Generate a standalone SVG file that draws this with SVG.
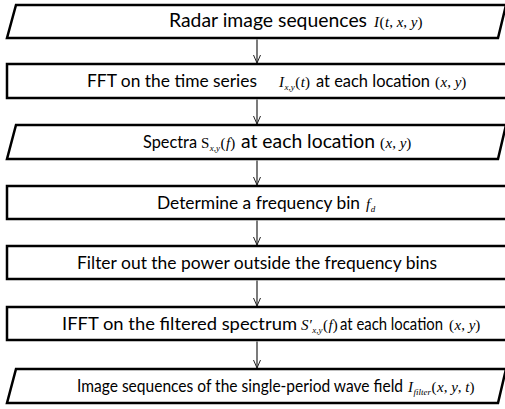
<svg xmlns="http://www.w3.org/2000/svg" width="505" height="409" viewBox="0 0 505 409">
<defs>
<marker id="ah" markerWidth="10" markerHeight="10" refX="9" refY="5" orient="auto" markerUnits="userSpaceOnUse" viewBox="0 0 10 10">
<path d="M1,1.5 L9,5 L1,8.5" fill="none" stroke="#222" stroke-width="1"/>
</marker>
</defs>
<style>
.box{fill:#fff;stroke:#000;stroke-width:2.5}
.t{font-family:Lato,"Open Sans","Liberation Sans",sans-serif;font-size:18px;fill:#000}
.m{font-family:"Liberation Serif","Times New Roman",serif;font-size:15px;fill:#000}
.i{font-style:italic}
.sub{font-size:9px}
.c{stroke:#222;stroke-width:1.2;fill:none}
</style>
<g id="connectors">
<line class="c" x1="257" y1="39.5" x2="257" y2="63" marker-end="url(#ah)"/>
<line class="c" x1="257" y1="99.5" x2="257" y2="124" marker-end="url(#ah)"/>
<line class="c" x1="257" y1="160.5" x2="257" y2="185" marker-end="url(#ah)"/>
<line class="c" x1="257" y1="220.5" x2="257" y2="245" marker-end="url(#ah)"/>
<line class="c" x1="257" y1="280.5" x2="257" y2="306" marker-end="url(#ah)"/>
<line class="c" x1="257" y1="341.5" x2="257" y2="368" marker-end="url(#ah)"/>
</g>
<g id="n1">
<polygon class="box" points="16,5 506,5 498,38 7,38"/>
<text class="t" x="169" y="27" style="font-size:19px" textLength="198" lengthAdjust="spacingAndGlyphs">Radar image sequences</text>
<text class="m" x="374" y="27"><tspan class="i">I</tspan><tspan dx="0.5">(</tspan><tspan class="i" dx="0.5">t</tspan>, <tspan class="i">x</tspan>, <tspan class="i">y</tspan>)</text>
</g>
<g id="n2">
<rect class="box" x="7" y="64" width="505" height="34"/>
<text class="t" x="87" y="87" textLength="170" lengthAdjust="spacingAndGlyphs">FFT on the time series</text>
<text class="m" x="279" y="87"><tspan class="i">I</tspan><tspan class="sub i" dy="3" dx="0.5">x,y</tspan><tspan dy="-3" dx="0.5">(</tspan><tspan class="i" dx="0.5">t</tspan>)</text>
<text class="t" x="316" y="87" textLength="114" lengthAdjust="spacingAndGlyphs">at each location</text>
<text class="m" x="435" y="87">(<tspan class="i" dx="0.5">x</tspan>, <tspan class="i">y</tspan>)</text>
</g>
<g id="n3">
<polygon class="box" points="16,125 506,125 498,159 7,159"/>
<text class="t" x="143" y="148" textLength="54" lengthAdjust="spacingAndGlyphs">Spectra</text>
<text class="m" x="201" y="148">S<tspan class="sub i" dy="3" dx="0.5">x,y</tspan><tspan dy="-3" dx="0.5">(</tspan><tspan class="i" dx="0.5">f</tspan>)</text>
<text class="t" x="241" y="148" style="font-size:19.5px" textLength="134" lengthAdjust="spacingAndGlyphs">at each location</text>
<text class="m" x="380" y="148">(<tspan class="i" dx="0.5">x</tspan>, <tspan class="i">y</tspan>)</text>
</g>
<g id="n4">
<rect class="box" x="7" y="186" width="505" height="33"/>
<text class="t" x="157" y="209" textLength="203" lengthAdjust="spacingAndGlyphs">Determine a frequency bin</text>
<text class="m" x="366" y="209"><tspan class="i">f</tspan><tspan class="sub i" dy="3" dx="0.5">d</tspan></text>
</g>
<g id="n5">
<rect class="box" x="7" y="246" width="505" height="33"/>
<text class="t" x="77" y="269" textLength="360" lengthAdjust="spacingAndGlyphs">Filter out the power outside the frequency bins</text>
</g>
<g id="n6">
<rect class="box" x="7" y="307" width="505" height="33"/>
<text class="t" x="62" y="330" textLength="235" lengthAdjust="spacingAndGlyphs">IFFT on the filtered spectrum</text>
<text class="m" x="301" y="330"><tspan class="i">S′</tspan><tspan class="sub i" dy="3" dx="0.5">x,y</tspan><tspan dy="-3" dx="0.5">(</tspan><tspan class="i" dx="0.5">f</tspan>)</text>
<text class="t" x="340" y="330" textLength="103" lengthAdjust="spacingAndGlyphs">at each location</text>
<text class="m" x="449" y="330">(<tspan class="i" dx="0.5">x</tspan>, <tspan class="i">y</tspan>)</text>
</g>
<g id="n7">
<polygon class="box" points="16,369 506,369 498,403 7,403"/>
<text class="t" x="77" y="392" style="font-size:16.5px" textLength="326" lengthAdjust="spacingAndGlyphs">Image sequences of the single-period wave field</text>
<text class="m" x="408" y="392"><tspan class="i">I</tspan><tspan class="sub i" dy="3" dx="0.5">filter</tspan><tspan dy="-3" dx="0.5">(</tspan><tspan class="i" dx="0.5">x</tspan>, <tspan class="i">y</tspan>, <tspan class="i">t</tspan>)</text>
</g>
</svg>
